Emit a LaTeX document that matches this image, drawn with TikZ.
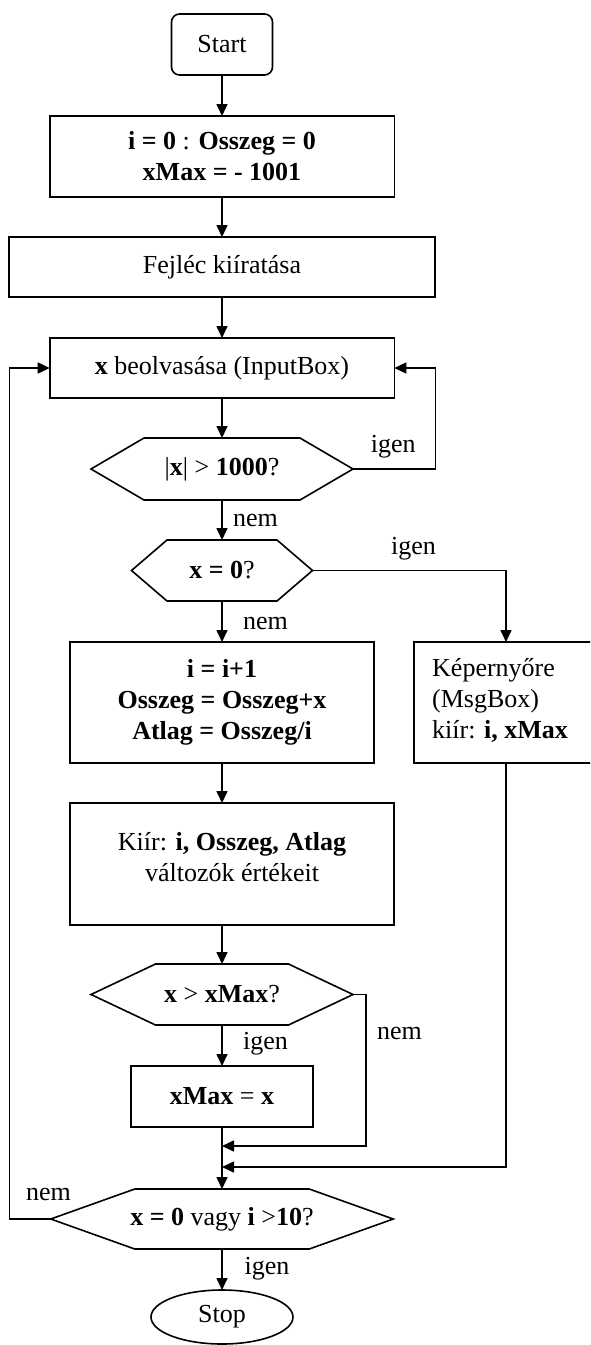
\documentclass[tikz,border=0pt]{standalone}
\usepackage{fontspec}
\setmainfont{Liberation Serif}
\usetikzlibrary{arrows.meta,shapes.geometric,calc}

\tikzset{
  every node/.style={font=\fontsize{26}{31}\selectfont},
  flow/.style={line width=1.6pt},
  arr/.style={flow,-{Triangle[length=12pt,width=11pt]}},
  proc/.style={draw,line width=1.6pt,rectangle,outer sep=0pt,inner sep=0pt,align=center},
  term/.style={proc,rounded corners=8pt},
  hexnode/.style={rectangle,outer sep=0pt,inner sep=0pt,align=center},
  lbl/.style={anchor=base west,inner sep=0pt},
}
% hexagonal decision outline around a named node; #2 = horizontal inset of the flat top
\newcommand\drawhex[2]{%
  \draw[flow,line join=miter] (#1.west) -- ([xshift=#2]#1.north west)
    -- ([xshift=-#2]#1.north east) -- (#1.east)
    -- ([xshift=-#2]#1.south east) -- ([xshift=#2]#1.south west) -- cycle;}

\begin{document}
\begin{tikzpicture}[x=1pt,y=-1pt]
\useasboundingbox (0,0) rectangle (590,1345);
\clip (0,0) rectangle (590,1345);

% main column
\node[term,minimum width=101pt,minimum height=61pt] (start) at (222,44.5) {Start};
\node[proc,minimum width=344.6pt,minimum height=81pt] (init) at (222,156.5)
  {\textbf{i = 0} : \textbf{Osszeg = 0}\\\textbf{xMax = - 1001}};
\node[proc,minimum width=426pt,minimum height=60pt] (head) at (222,267) {Fejléc kiíratása};
\node[proc,minimum width=344.6pt,minimum height=60pt] (read) at (222,368)
  {\textbf{x} beolvasása (InputBox)};
\node[hexnode,minimum width=262pt,minimum height=62pt] (h1) at (222,469)
  {|\textbf{x}| > \textbf{1000}?};
\drawhex{h1}{53pt}
\node[hexnode,minimum width=181pt,minimum height=61pt] (h2) at (222,570.5)
  {\textbf{x = 0}?};
\drawhex{h2}{35.5pt}
\node[proc,minimum width=304pt,minimum height=121pt] (calc) at (222,702.5)
  {\textbf{i = i+1}\\\textbf{Osszeg = Osszeg+x}\\\textbf{Atlag = Osszeg/i}};
\node[proc,minimum width=184pt,minimum height=121pt] (msg) at (506,702.5) {};
\node[anchor=west,align=left,inner sep=0pt] (msgt) at (432,700)
  {Képernyőre\\(MsgBox)\\kiír: \textbf{i, xMax}};
\node[proc,minimum width=324pt,minimum height=122pt] (out) at (232,864) {};
\node[align=center,inner sep=0pt] (outt) at (232,857.5)
  {Kiír: \textbf{i, Osszeg, Atlag}\\változók értékeit};
\node[hexnode,minimum width=262pt,minimum height=61pt] (h3) at (222,994.5)
  {\textbf{x} > \textbf{xMax}?};
\drawhex{h3}{64.5pt}
\node[proc,minimum width=182pt,minimum height=61pt] (setmax) at (222,1096.5)
  {\textbf{xMax} = \textbf{x}};
\node[hexnode,minimum width=342.5pt,minimum height=60pt] (h4) at (222,1219)
  {\textbf{x = 0} vagy \textbf{i} >\textbf{10}?};
\drawhex{h4}{84pt}
\node[draw,ellipse,line width=1.6pt,minimum width=142pt,minimum height=54pt,
  inner sep=0pt,outer sep=0pt] (stop) at (222,1317) {Stop};

% helper points for the bends
\coordinate (r1) at (435.3,368);
\coordinate (r3) at (366,1146);
\coordinate (m1) at (222,1146);
\coordinate (m2) at (222,1167);
\coordinate (l4) at (9.4,1219);

% straight flow
\draw[arr] (start) -- (init);
\draw[arr] (init) -- (head);
\draw[arr] (head) -- (read);
\draw[arr] (read) -- (h1.north);
\draw[arr] (h1.south) -- (h2.north);
\draw[arr] (h2.south) -- (calc);
\draw[arr] (calc.south) -- (calc.south |- out.north);
\draw[arr] (calc.south |- out.south) -- (h3.north);
\draw[arr] (h3.south) -- (setmax);
\draw[arr] (setmax) -- (h4.north);
\draw[arr] (h4.south) -- (stop);

% branches
\draw[arr] (h1.east) -| (r1) -- (read.east);
\draw[arr] (h2.east) -| (msg.north);
\draw[arr] (h3.east) -| (r3) -- (m1);
\draw[arr] (msg.south) |- (m2);
\draw[arr] (h4.west) -- (l4) |- (read.west);

% branch labels
\node[lbl] (y1) at (370.6,452.7) {igen};
\node[lbl] (n1) at (233,526) {nem};
\node[lbl] (y2) at (391,554) {igen};
\node[lbl] (n2) at (243,629) {nem};
\node[lbl] (n3) at (377,1039.3) {nem};
\node[lbl] (y3) at (243,1049) {igen};
\node[lbl] (n4) at (26,1200) {nem};
\node[lbl] (y4) at (244.5,1274) {igen};
\end{tikzpicture}
\end{document}
